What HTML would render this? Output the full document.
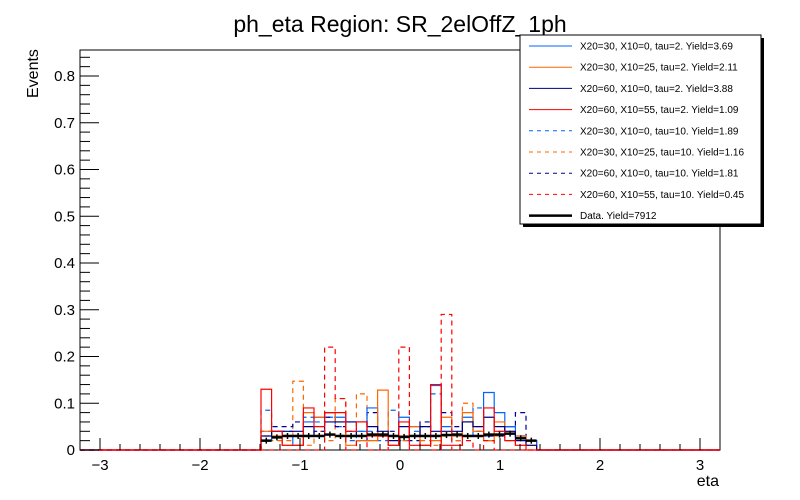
<!DOCTYPE html>
<html><head><meta charset="utf-8">
<style>
body{margin:0;background:#fff;}
svg{display:block;font-family:"Liberation Sans",Arial,sans-serif;}
</style></head>
<body>
<svg id="chart" width="800" height="500" viewBox="0 0 800 500" xmlns="http://www.w3.org/2000/svg">
<rect x="0" y="0" width="800" height="500" fill="#fff"/>
<text x="400" y="32" font-size="23" text-anchor="middle">ph_eta Region: SR_2elOffZ_1ph</text>
<g id="frame"></g>
<g id="hists"></g>
<g id="axes"></g>
<text transform="translate(38,98) rotate(-90)" font-size="16">Events</text>
<text x="719" y="486" font-size="16" text-anchor="end">eta</text>
<g id="legend"></g>
</svg>
<script>
const binLo = -1.39, binW = 0.106;
const blueSolid   = [0.02,0.04,0.03,0.01,0.06,0.07,0.08,0.07,0.06,0.04,0.09,0.03,0.03,0.07,0.05,0.03,0.138,0.05,0.03,0.07,0.03,0.123,0.08,0.05,0.03,0.02];
const orangeSolid = [0.04,0.03,0.01,0.01,0.08,0.07,0.08,0.06,0.01,0.02,0.02,0.128,0.01,0.03,0.05,0.01,0.02,0.07,0.03,0.08,0.04,0.02,0.06,0.04,0.03,0.01];
const navySolid   = [0.03,0.04,0.04,0.04,0.05,0.03,0.06,0.06,0.06,0.06,0.05,0.04,0.02,0.05,0.03,0.05,0.04,0.04,0.04,0.06,0.05,0.07,0.05,0.04,0.02,0.01];
const redSolid    = [0.13,0.04,0.01,0.01,0.09,0.05,0.08,0.08,0.04,0.06,0.03,0.03,0.01,0.06,0.01,0.01,0.14,0.01,0.01,0.03,0.03,0.09,0.04,0.02,0.01,0.0];
const blueDashed  = [0.085,0.03,0.04,0.03,0.07,0.06,0.07,0.05,0.02,0.04,0.04,0.02,0.085,0.02,0.04,0.05,0.12,0.03,0.02,0.06,0.09,0.03,0.04,0.05,0.03,0.02];
const orangeDashed= [0.03,0.02,0.02,0.147,0.01,0.04,0.02,0.11,0.03,0.12,0.02,0.03,0.01,0.02,0.03,0.02,0.01,0.03,0.02,0.10,0.05,0.02,0.03,0.02,0.01,0.02];
const navyDashed  = [0.04,0.05,0.05,0.06,0.03,0.04,0.07,0.05,0.04,0.02,0.08,0.03,0.04,0.03,0.02,0.06,0.03,0.08,0.05,0.06,0.04,0.03,0.03,0.05,0.08,0.02];
const redDashed   = [0,0,0,0,0,0,0.22,0.11,0,0.03,0,0,0.03,0.22,0,0.03,0,0.29,0,0.02,0,0.02,0,0,0,0];
const dataVals    = [0.02,0.027,0.03,0.03,0.03,0.03,0.033,0.03,0.03,0.03,0.033,0.033,0.03,0.028,0.03,0.03,0.03,0.032,0.033,0.03,0.03,0.033,0.033,0.035,0.025,0.02];
const xTicks = [-3,-2,-1,0,1,2,3];
const yTicks = [0,0.1,0.2,0.3,0.4,0.5,0.6,0.7,0.8];
const legendLabels = ["X20=30, X10=0, tau=2. Yield=3.69","X20=30, X10=25, tau=2. Yield=2.11","X20=60, X10=0, tau=2. Yield=3.88","X20=60, X10=55, tau=2. Yield=1.09","X20=30, X10=0, tau=10. Yield=1.89","X20=30, X10=25, tau=10. Yield=1.16","X20=60, X10=0, tau=10. Yield=1.81","X20=60, X10=55, tau=10. Yield=0.45","Data. Yield=7912"];

const NS="http://www.w3.org/2000/svg";
const X = v => 400 + v*100;
const Y = v => 450 - v*467.5;
function mk(parent, tag, attrs){const e=document.createElementNS(NS,tag);for(const k in attrs)e.setAttribute(k,attrs[k]);parent.appendChild(e);return e;}

const frame=document.getElementById('frame');
const fr=mk(frame,'path',{d:'M80,450 L80,50 L720,50 L720,450 Z',fill:'none',stroke:'#000','stroke-width':1});



const axes=document.getElementById('axes');
for(let i=-30;i<=30;i+=2){const v=i/10;const major=(i%10===0);
  const t=mk(axes,'line',{x1:X(v),x2:X(v),y1:450,y2:major?438:444,stroke:'#000','stroke-width':1});
  
  }
xTicks.forEach(v=>{const t=mk(axes,'text',{x:X(v),y:470,'font-size':15,'text-anchor':'middle'});t.textContent=(v<0?'\u2212'+(-v):String(v));
  
  });
for(let i=0;i<=42;i++){const v=i/50;const major=(i%5===0);
  const t=mk(axes,'line',{x1:80,x2:major?99:90,y1:Y(v),y2:Y(v),stroke:'#000','stroke-width':1});
  
  }
yTicks.forEach(v=>{const t=mk(axes,'text',{x:75,y:Y(v)+5,'font-size':15,'text-anchor':'end'});t.textContent=(v===0?'0':v.toFixed(1));
  
  });

const hists=document.getElementById('hists');
function histPath(vals){let d='M'+X(-3.2)+','+Y(0)+' L'+X(binLo)+','+Y(0);
  vals.forEach((v,i)=>{const a=X(binLo+i*binW),b=X(binLo+(i+1)*binW);d+=' L'+a+','+Y(v)+' L'+b+','+Y(v);});
  d+=' L'+X(binLo+vals.length*binW)+','+Y(0)+' L'+X(3.2)+','+Y(0);return d;}
const series=[
 [blueDashed,'#0066ff',true,'hist-x20-30-x10-0-tau10'],
 [orangeDashed,'#ff6600',true,'hist-x20-30-x10-25-tau10'],
 [navyDashed,'#000099',true,'hist-x20-60-x10-0-tau10'],
 [blueSolid,'#0066ff',false,'hist-x20-30-x10-0-tau2'],
 [orangeSolid,'#ff6600',false,'hist-x20-30-x10-25-tau2'],
 [navySolid,'#000080',false,'hist-x20-60-x10-0-tau2'],
 [redDashed,'#ff0000',true,'hist-x20-60-x10-55-tau10'],
 [redSolid,'#ff0000',false,'hist-x20-60-x10-55-tau2']];
series.forEach(s=>{const p=mk(hists,'path',{d:histPath(s[0]),fill:'none',stroke:s[1],'stroke-width':1.2});
  if(s[2])p.setAttribute('stroke-dasharray','5,4');
  
  });
dataVals.forEach((v,i)=>{const a=X(binLo+i*binW),b=X(binLo+(i+1)*binW),c=(a+b)/2;
  const g=mk(hists,'g',{});
  
  
  mk(g,'line',{x1:a,x2:b,y1:Y(v),y2:Y(v),stroke:'#000','stroke-width':2.5});
  mk(g,'line',{x1:c,x2:c,y1:Y(v)-3,y2:Y(v)+3,stroke:'#000','stroke-width':1.5});});

const leg=document.getElementById('legend');
mk(leg,'rect',{x:523,y:38,width:241,height:189,fill:'#000'});
const box=mk(leg,'rect',{x:520,y:35,width:241,height:189,fill:'#fff',stroke:'#000','stroke-width':1});


const legStyles=[['#0066ff',false],['#ff6600',false],['#000080',false],['#ff0000',false],['#0066ff',true],['#ff6600',true],['#000099',true],['#ff0000',true],['#000',false]];
legendLabels.forEach((lab,i)=>{const y=46+i*21.2;const g=mk(leg,'g',{});
  
  
  const l=mk(g,'line',{x1:529,x2:572,y1:y,y2:y,stroke:legStyles[i][0],'stroke-width':i===8?2.5:1});
  if(legStyles[i][1])l.setAttribute('stroke-dasharray','4,4');
  const t=mk(g,'text',{x:580,y:y+3.5,'font-size':10});t.textContent=lab;});
</script>
</body></html>
